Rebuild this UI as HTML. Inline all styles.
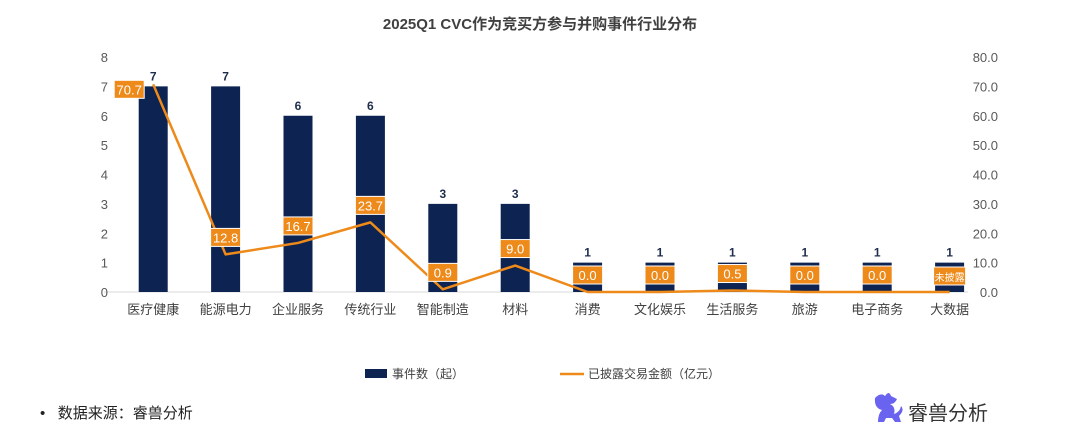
<!DOCTYPE html>
<html><head><meta charset="utf-8"><style>
body{margin:0;background:#fff;font-family:"Liberation Sans","Noto Sans CJK SC",sans-serif;}
svg text{font-family:"Liberation Sans","Noto Sans CJK SC",sans-serif;}
</style></head><body>
<svg width="1080" height="439" viewBox="0 0 1080 439">
<text x="540" y="29" text-anchor="middle" font-size="15" font-weight="bold" fill="#404040">2025Q1 CVC作为竞买方参与并购事件行业分布</text>
<g id="axes"></g><g id="bars"></g><g id="line"></g><g id="labels"></g>
<g>
<rect x="365" y="369" width="22" height="9" fill="#0d2352"/>
<text x="392" y="378" font-size="12" fill="#404040">事件数（起）</text>
<line x1="560" y1="374" x2="584" y2="374" stroke="#ed8a1a" stroke-width="2.5"/>
<text x="588" y="378" font-size="12" fill="#404040">已披露交易金额（亿元）</text>
</g>
<text x="40" y="418" font-size="15" fill="#222">•&#160;&#160;&#160;数据来源：睿兽分析</text>
<g>
<path d="M875 398 q6 -6 10 -2 q4 -6 6 0 l6 3 q-2 5 -7 5 q6 3 4 10 q6 -2 7 -8 q4 4 -2 10 l2 6 h-6 l-3 -4 h-6 l-2 4 h-6 q0 -8 4 -12 q-8 -2 -7 -12z" fill="#6a63f0"/>
<text x="908" y="420" font-size="20" fill="#333">睿兽分析</text>
</g>
</svg>
<script>
const categories=["医疗健康","能源电力","企业服务","传统行业","智能制造","材料","消费","文化娱乐","生活服务","旅游","电子商务","大数据"];
const counts=[7,7,6,6,3,3,1,1,1,1,1,1];
const amounts=[70.7,12.8,16.7,23.7,0.9,9.0,0.0,0.0,0.5,0.0,0.0,null];
const leftTicks=[0,1,2,3,4,5,6,7,8];
const rightTicks=["0.0","10.0","20.0","30.0","40.0","50.0","60.0","70.0","80.0"];
const NS="http://www.w3.org/2000/svg";
const y0=292,y8=57,x0=117,step=72.4,bw=29;
const yL=v=>y0-(y0-y8)*v/8, yR=v=>y0-(y0-y8)*v/80, xC=i=>x0+step*(i+0.5);
function mk(t,a,p){const e=document.createElementNS(NS,t);for(const k in a)e.setAttribute(k,a[k]);document.getElementById(p).appendChild(e);return e;}
const ax=mk("line",{x1:104,x2:968,y1:y0,y2:y0,stroke:"#d9d9d9"},"axes");


leftTicks.forEach(v=>{const t=mk("text",{x:108,y:yL(v)+5,"text-anchor":"end","font-size":13,fill:"#595959"},"axes");t.textContent=v;

});
rightTicks.forEach((s,i)=>{const t=mk("text",{x:998,y:yR(i*10)+5,"text-anchor":"end","font-size":13,fill:"#595959"},"axes");t.textContent=s;

});
categories.forEach((c,i)=>{const t=mk("text",{x:xC(i),y:314,"text-anchor":"middle","font-size":13,fill:"#404040"},"axes");t.textContent=c;


const b=mk("rect",{x:xC(i)-bw/2,y:yL(counts[i]),width:bw,height:y0-yL(counts[i]),fill:"#0d2352"},"bars");


const v=mk("text",{x:xC(i),y:yL(counts[i])-6,"text-anchor":"middle","font-size":12,"font-weight":"bold",fill:"#1f2d4d"},"labels");v.textContent=counts[i];

});
let pts=amounts.map((a,i)=>xC(i)+","+yR(a==null?0:a)).join(" ");
const pl=mk("polyline",{points:pts,fill:"none",stroke:"#ed8a1a","stroke-width":2.5,"stroke-linejoin":"round"},"line");


amounts.forEach((a,i)=>{const s=a==null?"未披露":a.toFixed(1);const w=a==null?32:30;
let cx=xC(i),cy=yR(a==null?0:a)-17;if(i==0){cx-=24;cy=yR(a)+5;}if(a==null)cy=yR(0)-16;
const r=mk("rect",{x:cx-w/2,y:cy-9,width:w,height:18,fill:"#ed8a1a",stroke:"#fff","stroke-width":1},"labels");


const t=mk("text",{x:cx,y:cy+5,"text-anchor":"middle","font-size":a==null?10:13,fill:"#fff"},"labels");t.textContent=s;

});
</script>
</body></html>
